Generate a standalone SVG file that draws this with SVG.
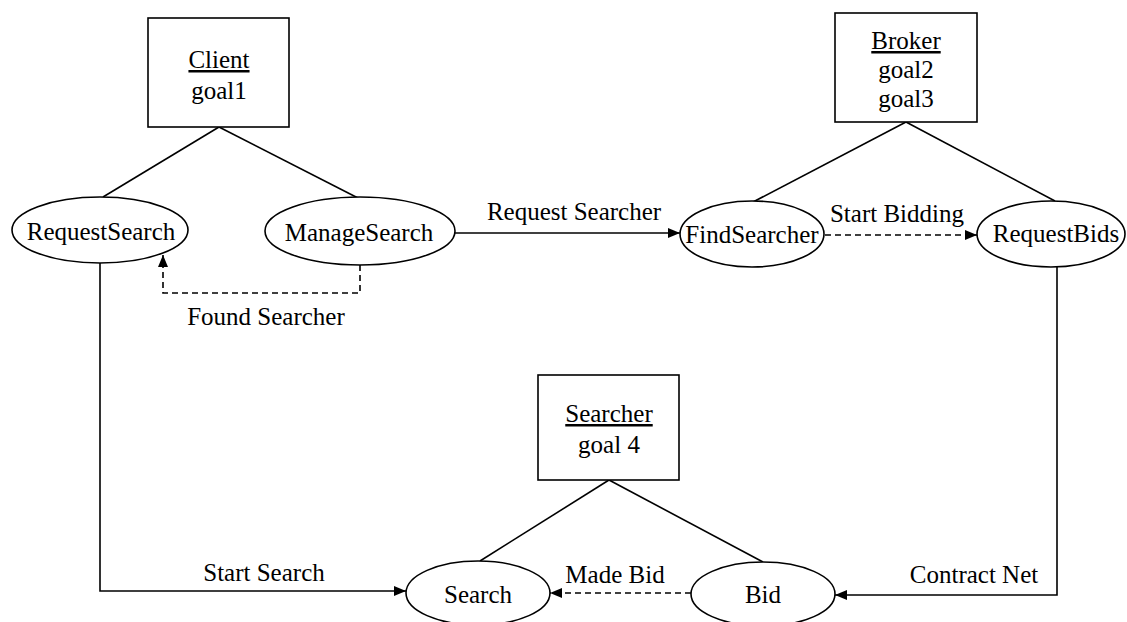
<svg xmlns="http://www.w3.org/2000/svg" width="1127" height="622" viewBox="0 0 1127 622">
  <style>
    text { font-family: "Liberation Serif", "Times New Roman", serif; font-size: 25px; fill: #000; text-anchor: middle; }
    .shape { fill: #fff; stroke: #000; stroke-width: 1.6; }
    .line { fill: none; stroke: #000; stroke-width: 1.6; }
    .dash { fill: none; stroke: #000; stroke-width: 1.6; stroke-dasharray: 6 4; }
    .u { text-decoration: underline; }
  </style>
  <defs>
    <marker id="arrow" markerUnits="userSpaceOnUse" markerWidth="14" markerHeight="12" refX="12" refY="6" orient="auto">
      <path d="M0,1 L12,6 L0,11 Z" fill="#000"/>
    </marker>
  </defs>
  <rect width="1127" height="622" fill="#fff"/>

  <g id="connectors">
    <line class="line" x1="219" y1="127" x2="103" y2="197"/>
    <line class="line" x1="219" y1="127" x2="358" y2="198"/>
    <line class="line" x1="906" y1="122" x2="753" y2="202"/>
    <line class="line" x1="906" y1="122" x2="1055" y2="201"/>
    <line class="line" x1="609" y1="480" x2="480" y2="561"/>
    <line class="line" x1="609" y1="480" x2="763" y2="562"/>
    <path class="line" d="M455,233 H680" marker-end="url(#arrow)"/>
    <path class="dash" d="M825,235 H977" marker-end="url(#arrow)"/>
    <path class="dash" d="M360,265 V293 H163 V255" marker-end="url(#arrow)"/>
    <path class="line" d="M100,263 V591 H406" marker-end="url(#arrow)"/>
    <path class="line" d="M1057,267 V595 H835" marker-end="url(#arrow)"/>
    <path class="dash" d="M691,593 H550" marker-end="url(#arrow)"/>
    <text x="574" y="220">Request Searcher</text>
    <text x="897" y="222">Start Bidding</text>
    <text x="266" y="325">Found Searcher</text>
    <text x="264" y="581">Start Search</text>
    <text x="615" y="583">Made Bid</text>
    <text x="974" y="583">Contract Net</text>
  </g>

  <g id="client">
    <rect class="shape" x="148" y="18" width="141" height="109"/>
    <text x="219" y="68" class="u">Client</text>
    <text x="219" y="99">goal1</text>
  </g>
  <g id="broker">
    <rect class="shape" x="835" y="13" width="142" height="109"/>
    <text x="906" y="49" class="u">Broker</text>
    <text x="906" y="78">goal2</text>
    <text x="906" y="107">goal3</text>
  </g>
  <g id="searcher">
    <rect class="shape" x="538" y="375" width="141" height="105"/>
    <text x="609" y="422" class="u">Searcher</text>
    <text x="609" y="453">goal 4</text>
  </g>

  <g id="requestsearch">
    <ellipse class="shape" cx="100" cy="230" rx="88" ry="33"/>
    <text x="101" y="240">RequestSearch</text>
  </g>
  <g id="managesearch">
    <ellipse class="shape" cx="360" cy="231" rx="95" ry="34"/>
    <text x="359" y="241">ManageSearch</text>
  </g>
  <g id="findsearcher">
    <ellipse class="shape" cx="752" cy="234" rx="72" ry="33"/>
    <text x="752" y="243">FindSearcher</text>
  </g>
  <g id="requestbids">
    <ellipse class="shape" cx="1051" cy="234" rx="74" ry="33"/>
    <text x="1056" y="242">RequestBids</text>
  </g>
  <g id="search">
    <ellipse class="shape" cx="478" cy="593" rx="72" ry="32"/>
    <text x="478" y="603">Search</text>
  </g>
  <g id="bid">
    <ellipse class="shape" cx="763" cy="594" rx="72" ry="32"/>
    <text x="763" y="603">Bid</text>
  </g>
</svg>
